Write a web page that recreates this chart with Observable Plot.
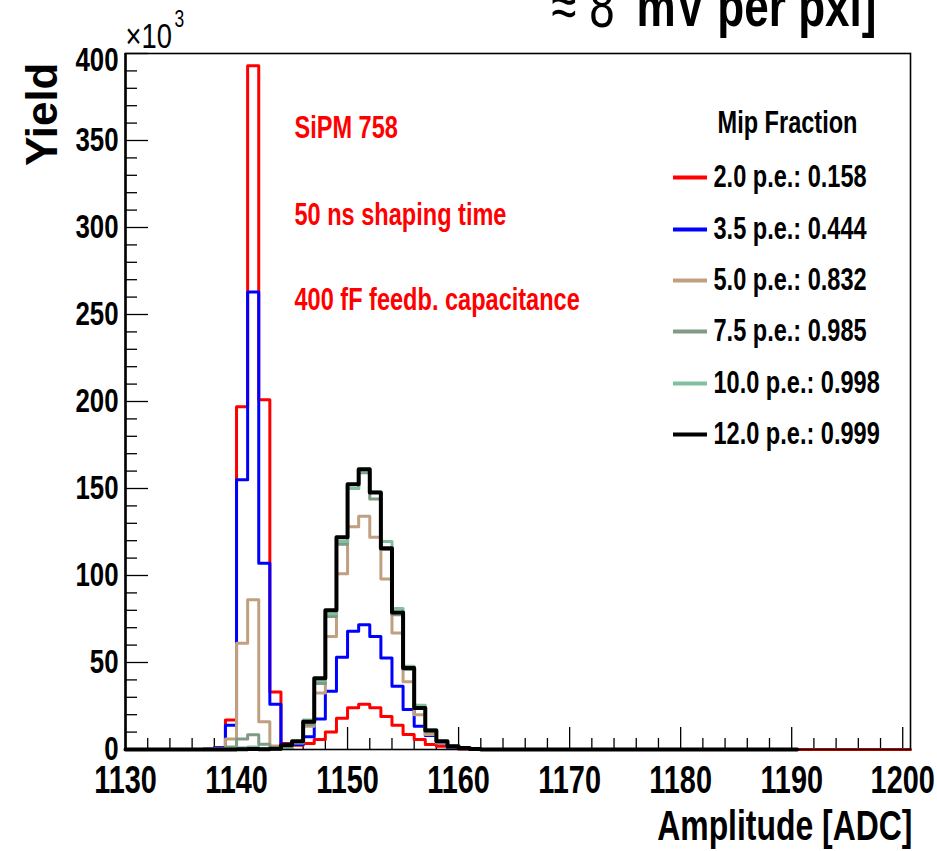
<!DOCTYPE html>
<html><head><meta charset="utf-8">
<script src="https://cdn.jsdelivr.net/npm/d3@7"></script>
<script src="https://cdn.jsdelivr.net/npm/@observablehq/plot@0.6"></script>
<style>body{margin:0;background:#fff;}</style>
</head><body><div id="chart"></div>
<script>
// ---- data (yield in units of 10^3) ----
const binStarts = [1136,1137,1138,1139,1140,1141,1142,1143,1144,1145,1146,1147,1148,1149,1150,1151,1152,1153,1154,1155,1156,1157,1158,1159,1160,1161,1162];
const pe20  = [0,0.2,1.0,17,197,393,201,33,3.5,2.5,3.4,5.7,10,18,24,26,24,19,14,8.6,5.7,2.9,1.9,0.8,0.3,0.1,0];
const pe35  = [0,0.2,1.0,14,155,263,107,26,3,2.9,7.3,17.6,33.5,53,68,71.7,65,52.6,36.3,23,13.4,8,3.8,1.2,0.5,0.2,0];
const pe50  = [0,0,0.5,6,61,86,16,2,1,3.8,13.4,32.5,65,101,128,134,122,98,67,39,20,8.6,3.8,1.5,0.5,0.2,0];
const pe75  = [0,0,0.5,1.5,6,8.5,3,0.5,1,4,14.3,38,76.5,118,150,159,144,115,77.5,46,24,10.5,4.2,1.8,0.8,0.3,0];
const pe100 = [0,0,0,0.3,1,1.5,0.5,0.2,0.8,4.5,17,39.6,78,119.5,150,160,148,119.5,81,47.8,25.4,11.5,4.5,2,0.8,0.3,0];
const pe120 = [0,0,0,0,0.2,0.3,0.1,0.5,2.5,4.8,16,41,80,122,152.5,161,147.7,115.7,78.8,46.9,23.9,10.9,4.8,1.9,0.8,0.3,0];
const seriesLabels = ["2.0 p.e.: 0.158","3.5 p.e.: 0.444","5.0 p.e.: 0.832","7.5 p.e.: 0.985","10.0 p.e.: 0.998","12.0 p.e.: 0.999"];
const seriesEnds = [1200.7,1190.5,1190.5,1190.5,1190.5,1190.5];
const xTickLabels = [1130,1140,1150,1160,1170,1180,1190,1200];
const yTickLabels = [0,50,100,150,200,250,300,350,400];
const notes = ["SiPM 758","50 ns shaping time","400 fF feedb. capacitance"];
const legendTitle = "Mip Fraction";
const topTitleA = "≈ 8";
const topTitleB = "mV per pxl]";

// ---- styling ----
const colors = ["#ff0000","#0000ff","#c0a080","#7f9a85","#80c0a0","#000000"];
const widths = [3,3,3,3,3,4];
const W = 937, H = 851, mL = 125, mR = 27, mT = 53, mB = 102;
const xDom = [1130, 1200.7], yDom = [0, 400];
const pW = W - mL - mR, pH = H - mT - mB;
const X = px => xDom[0] + (px - mL) * (xDom[1] - xDom[0]) / pW;
const Y = py => yDom[0] + (mT + pH - py) * (yDom[1] - yDom[0]) / pH;
const FONT = "'Liberation Sans', Arial, Helvetica, sans-serif";

const allSeries = [pe20, pe35, pe50, pe75, pe100, pe120];
function histPoints(vals, end) {
  const pts = [{x: xDom[0], y: 0}];
  binStarts.forEach((b, i) => pts.push({x: b, y: vals[i]}));
  pts.push({x: binStarts[binStarts.length - 1] + 1, y: 0});
  pts.push({x: end, y: 0});
  return pts;
}

const histMarks = allSeries.map((vals, i) =>
  Plot.line(histPoints(vals, seriesEnds[i]), {x: "x", y: "y", curve: "step-after", stroke: colors[i], strokeWidth: widths[i]})
);

const legendRowsPx = [177, 229, 280, 331, 383, 434];
const legendData = seriesLabels.map((s, i) => ({label: s, color: colors[i], y: Y(legendRowsPx[i])}));
const notesPx = [128, 215, 300];
const notesData = notes.map((n, i) => ({text: n, y: Y(notesPx[i])}));

const xMinor = d3.range(1130, 1201, 2).filter(v => !xTickLabels.includes(v));
const yMinor = d3.range(0, 401, 10).filter(v => !yTickLabels.includes(v));

const chart = Plot.plot({
  width: W, height: H, marginTop: mT, marginRight: mR, marginBottom: mB, marginLeft: mL,
  x: {domain: xDom, axis: null},
  y: {domain: yDom, axis: null},
  style: {fontFamily: FONT, background: "white", overflow: "visible"},
  marks: [
    // ticks
    Plot.tickX(xTickLabels, {x: d => d, stroke: "black", strokeWidth: 1.3, insetTop: pH - 22}),
    Plot.tickX(xMinor, {x: d => d, stroke: "black", strokeWidth: 1.3, insetTop: pH - 11}),
    Plot.tickY(yTickLabels, {y: d => d, stroke: "black", strokeWidth: 1.3, insetRight: pW - 23}),
    Plot.tickY(yMinor, {y: d => d, stroke: "black", strokeWidth: 1.3, insetRight: pW - 12}),
    // histograms
    ...histMarks,
    Plot.frame({stroke: "black", strokeWidth: 1.6}),
    Plot.ruleX([xDom[0]], {stroke: "black", strokeWidth: 2.5}),
    // tick labels
    Plot.text(xTickLabels, {x: d => d, frameAnchor: "bottom", lineAnchor: "middle", dy: 31, text: d => String(d), fontSize: 38, fontWeight: "bold", fill: "black"}),
    Plot.text(yTickLabels, {y: d => d === 400 ? d - 4 : d, frameAnchor: "left", lineAnchor: "middle", dx: -7, textAnchor: "end", text: d => String(d), fontSize: 34, fontWeight: "bold", fill: "black"}),
    // axis titles
    Plot.text(["Amplitude [ADC]"], {frameAnchor: "bottom-right", lineAnchor: "middle", dx: 2, dy: 77, textAnchor: "end", fontSize: 42, fontWeight: "bold", fill: "black"}),
    Plot.text(["Yield"], {frameAnchor: "top-left", lineAnchor: "middle", dx: 42 - mL, dy: 62 - mT, rotate: -90, textAnchor: "end", fontSize: 44, fontWeight: "bold", fill: "black"}),
    Plot.text(["×10"], {frameAnchor: "top-left", lineAnchor: "middle", dx: 0, dy: -17, textAnchor: "start", fontSize: 36, fill: "black"}),
    Plot.text(["3"], {frameAnchor: "top-left", lineAnchor: "middle", dx: 49, dy: -34, textAnchor: "start", fontSize: 23, fill: "black"}),
    Plot.text([topTitleA], {frameAnchor: "top-right", lineAnchor: "middle", dx: 614 - (W - mR), dy: -46, textAnchor: "end", fontSize: 60, fill: "black"}),
    Plot.text([topTitleB], {frameAnchor: "top-right", lineAnchor: "middle", dx: 876 - (W - mR), dy: -46, textAnchor: "end", fontSize: 58, fontWeight: "bold", fill: "black"}),
    // red notes
    Plot.text(notesData, {x: () => X(294), y: "y", text: "text", textAnchor: "start", fontSize: 31, fontWeight: "bold", fill: "#ff0000"}),
    // legend
    Plot.text([legendTitle], {x: () => X(787), y: () => Y(123), textAnchor: "middle", fontSize: 31, fontWeight: "bold", fill: "black"}),
    Plot.ruleY(legendData, {y: "y", x1: () => X(673), x2: () => X(707), stroke: "color", strokeWidth: 4}),
    Plot.text(legendData, {x: () => X(713), y: "y", text: "label", textAnchor: "start", fontSize: 31, fontWeight: "bold", fill: "black"})
  ]
});

// condensed look of the original's horizontal lettering
chart.querySelectorAll("text").forEach(t => {
  let tr = t.getAttribute("transform");
  if (!tr) {
    const x = t.getAttribute("x") || 0, y = t.getAttribute("y") || 0;
    t.removeAttribute("x"); t.removeAttribute("y");
    tr = `translate(${x},${y})`;
  }
  if (!tr.includes("rotate")) t.setAttribute("transform", tr + " scale(0.76,1)");
});
document.getElementById("chart").appendChild(chart);
</script>
</body></html>
